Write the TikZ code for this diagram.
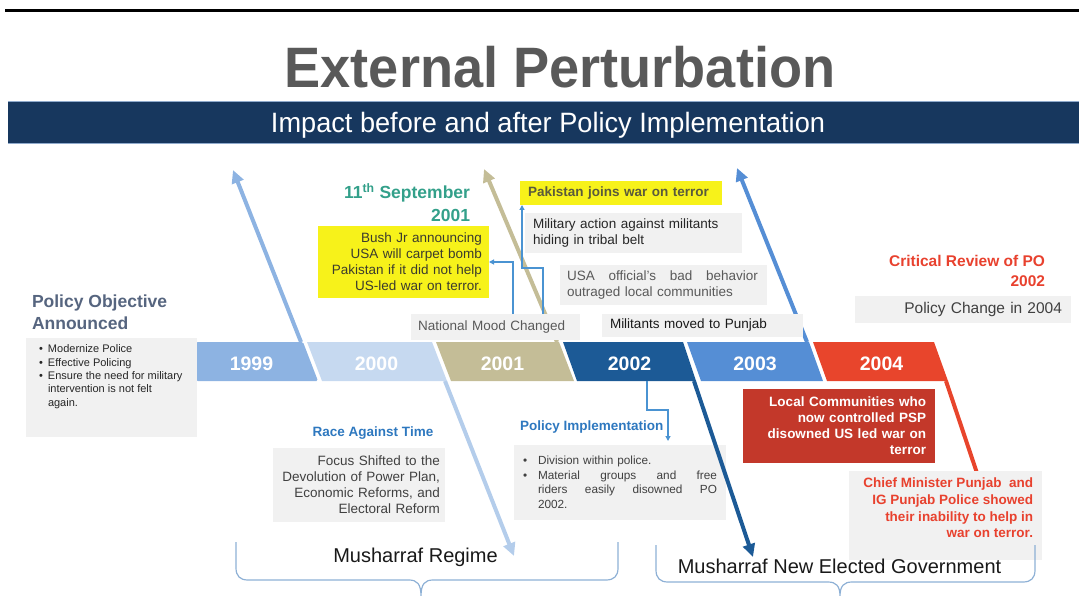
\documentclass[tikz,border=0pt]{standalone}
\usepackage{fontspec}
\setmainfont{Liberation Sans}
\usepackage{graphicx}
\usetikzlibrary{arrows.meta,calc}

\definecolor{navy}{HTML}{17375E}
\definecolor{bandedge}{HTML}{8FAACC}
\definecolor{titlegray}{HTML}{595959}
\definecolor{boxgray}{HTML}{F1F1F1}
\definecolor{txtdark}{HTML}{262626}
\definecolor{txtmid}{HTML}{404040}
\definecolor{txtgray}{HTML}{595959}
\definecolor{yr1999}{HTML}{8DB3E2}
\definecolor{yr2000}{HTML}{C6D9F0}
\definecolor{ar2000}{HTML}{B4CDEB}
\definecolor{yr2001}{HTML}{C4BD97}
\definecolor{yr2002}{HTML}{1C5A96}
\definecolor{yr2003}{HTML}{558ED5}
\definecolor{yr2004}{HTML}{E8452C}
\definecolor{redfill}{HTML}{C3382A}
\definecolor{alertred}{HTML}{E8412E}
\definecolor{septteal}{HTML}{33A08A}
\definecolor{slateblue}{HTML}{56657F}
\definecolor{headblue}{HTML}{2E78BF}
\definecolor{connblue}{HTML}{4A93D2}
\definecolor{bracecol}{HTML}{8DB0D5}
\definecolor{lemon}{HTML}{F7F21A}
\definecolor{joinolive}{HTML}{5A5A3C}
\definecolor{bushtext}{HTML}{3B3B2E}

\newcommand\setfs[2]{\fontsize{#1pt}{#2pt}\selectfont}
% a line of text spread to a fixed width, for justified paragraphs
\newcommand\spreadline[2]{\hbox to #1{#2}}

\tikzset{
  graybox/.style={fill=boxgray, draw=none, inner ysep=0pt, outer sep=0pt, anchor=north west},
  lemonbox/.style={fill=lemon, draw=none, inner ysep=0pt, outer sep=0pt, anchor=north west},
  body/.style={font=\setfs{13.5}{16}},
  yearlbl/.style={text=white, font=\setfs{19.5}{20}\bfseries, inner sep=0pt, anchor=base},
  timearrow/.style={line width=4pt, -{Triangle[length=13pt,width=12pt]}},
  timeline/.style={line width=4pt},
  conn/.style={draw=connblue, line width=1.2pt, -{Triangle[length=5pt,width=5pt]}},
  bracepath/.style={draw=bracecol, line width=1.2pt},
  plain/.style={inner sep=0pt, outer sep=0pt}
}

\begin{document}
\begin{tikzpicture}[x=1pt,y=-1pt]
\useasboundingbox (0,0) rectangle (1079,596);

% heading
\draw[line width=3pt] (5,10.5) -- (1079,10.5);
\node[plain, anchor=base, text=titlegray] (title) at (560,88)
  {\scalebox{0.95}[1]{\setfs{57}{57}\bfseries External Perturbation}};
\fill[navy] (8,101) rectangle (1079,144);
\draw[bandedge, line width=1pt] (8,101.5) -- (1079,101.5);
\draw[bandedge, line width=1pt] (8,143.5) -- (1079,143.5);
\node[plain, anchor=base, text=white] (subtitle) at (548,133)
  {\scalebox{0.97}[1]{\setfs{28}{28}Impact before and after Policy Implementation}};

% box that the 2002 arrow crosses over
\node[graybox, minimum width=212pt, minimum height=75pt, text width=194pt,
      inner xsep=9pt, align=left, text=txtmid, font=\setfs{11.8}{14.5}] (implbox) at (514,445)
  {\makebox[15pt][l]{•}Division within police.\\
   \makebox[15pt][l]{•}\spreadline{179pt}{Material\hfill groups\hfill and\hfill free}\\
   \hspace*{15pt}\spreadline{179pt}{riders\hfill easily\hfill disowned\hfill PO}\\
   \hspace*{15pt}2002.};

% arrows leaving the timeline
\draw[timearrow, yr1999] (301,342) -- (233,170);
\draw[timearrow, ar2000] (445,381) -- (514,556);
\draw[timearrow, yr2001] (557,342) -- (484,169);
\draw[timearrow, yr2002] (694,381) -- (753,557);
\draw[timearrow, yr2003] (807,342) -- (737,168);
\draw[timeline, yr2004] (946,381) -- (980,482);

% timeline segments
\fill[yr1999, rounded corners=1.5pt] (196,342) -- (303,342) -- (318,381) -- (196,381) -- cycle;
\fill[yr2000] (307,342) -- (432,342) -- (447,381) -- (322,381) -- cycle;
\fill[yr2001] (436,342) -- (559,342) -- (574,381) -- (451,381) -- cycle;
\fill[yr2002] (563,342) -- (683,342) -- (696,381) -- (577,381) -- cycle;
\fill[yr2003] (687,342) -- (809,342) -- (823,381) -- (701,381) -- cycle;
\fill[yr2004] (813,342) -- (934,342) -- (948,381) -- (827,381) -- cycle;
\coordinate (seg2002) at (647,381);

\node[yearlbl] (y1999) at (251.5,370) {1999};
\node[yearlbl] (y2000) at (376.5,370) {2000};
\node[yearlbl] (y2001) at (502.5,370) {2001};
\node[yearlbl] (y2002) at (629.5,370) {2002};
\node[yearlbl] (y2003) at (755,370) {2003};
\node[yearlbl] (y2004) at (881.5,370) {2004};

% policy objective
\node[plain, anchor=base west, text=slateblue, font=\setfs{17.5}{22}\bfseries] (objhead1) at (32,307) {Policy Objective};
\node[plain, anchor=base west, text=slateblue, font=\setfs{17.5}{22}\bfseries] (objhead2) at (32,329) {Announced};
\node[graybox, minimum width=171pt, minimum height=99pt] (objbox) at (26,338) {};
\node[plain, anchor=north west, align=left, text=txtdark, font=\setfs{11}{13.3}] (objtext) at (39,345)
  {\makebox[9pt][l]{•}Modernize Police\\
   \makebox[9pt][l]{•}Effective Policing\\
   \makebox[9pt][l]{•}Ensure the need for military\\
   \hspace*{9pt}intervention is not felt\\
   \hspace*{9pt}again.};

% 11th September 2001
\node[plain, anchor=base east, text=septteal, font=\setfs{17.5}{22}\bfseries] (sept1) at (470,199) {11\textsuperscript{th} September};
\node[plain, anchor=base east, text=septteal, font=\setfs{17.5}{22}\bfseries] (sept2) at (470,222) {2001};
\node[lemonbox, body, minimum width=171pt, minimum height=72pt, text width=157pt,
      inner xsep=7pt, align=right, text=bushtext] (bush) at (318,226)
  {Bush Jr announcing\\USA will carpet bomb\\Pakistan if it did not help\\US-led war on terror.};

% 2001 / 2002 events
\node[lemonbox, minimum width=202pt, minimum height=24pt, text width=186pt, inner xsep=8pt,
      align=left, text=joinolive, font=\setfs{13.5}{16}\bfseries] (pakjoin) at (520,181)
  {Pakistan joins war on terror};
\node[graybox, body, minimum width=217pt, minimum height=40pt, text width=201pt, inner xsep=8pt,
      align=left, text=txtdark] (military) at (525,213)
  {Military action against militants\\hiding in tribal belt};
\node[graybox, body, minimum width=207pt, minimum height=40pt, text width=193pt, inner xsep=7pt,
      align=left, text=txtgray] (usa) at (560,265)
  {\spreadline{191pt}{USA\hfill official's\hfill bad\hfill behavior}\\outraged local communities};
\node[graybox, body, minimum width=201pt, minimum height=23pt, text width=185pt, inner xsep=8pt,
      align=left, text=black!90] (punjab) at (602,314)
  {Militants moved to Punjab};
\node[graybox, body, minimum width=169pt, minimum height=26pt, text width=155pt, inner xsep=7pt,
      align=left, text=txtgray] (mood) at (411,314)
  {National Mood Changed};

\draw[conn] ($(mood.north west)+(102,0)$) |- (bush.east);
\draw[conn] ($(mood.north east)+(-37,0)$) -- ++(0,-46) -| ($(pakjoin.south west)+(2,0)$);

% critical review
\node[plain, anchor=base east, text=alertred, font=\setfs{15.5}{20}\bfseries] (crit1) at (1045,266) {Critical Review of PO};
\node[plain, anchor=base east, text=alertred, font=\setfs{15.5}{20}\bfseries] (crit2) at (1045,286) {2002};
\node[graybox, minimum width=216pt, minimum height=27pt, text width=198pt, inner xsep=9pt,
      align=right, text=txtmid, font=\setfs{15.5}{18}] (polchange) at (855,296)
  {Policy Change in 2004};

% race against time
\node[plain, anchor=base, text=headblue, font=\setfs{13.5}{16}\bfseries] (race) at (373,436) {Race Against Time};
\node[graybox, body, minimum width=172pt, minimum height=74pt, text width=162pt, inner xsep=5pt,
      align=right, text=txtmid] (focus) at (273,448)
  {Focus Shifted to the\\Devolution of Power Plan,\\Economic Reforms, and\\Electoral Reform};

% policy implementation
\node[plain, anchor=base west, text=headblue, font=\setfs{13.5}{16}\bfseries] (impltitle) at (520,430) {Policy Implementation};
\draw[conn] (seg2002) -- ++(0,29) -| ($(implbox.north west)+(154,-4)$);

% 2003 / 2004 outcomes
\node[anchor=north west, fill=redfill, inner ysep=0pt, outer sep=0pt, minimum width=192pt,
      minimum height=74pt, text width=174pt, inner xsep=9pt, align=right, text=white,
      font=\setfs{13.5}{16}\bfseries] (local) at (743,389)
  {Local Communities who\\now controlled PSP\\disowned US led war on\\terror};
\node[graybox, minimum width=193pt, minimum height=89pt] (chiefbox) at (849,471) {};
\node[plain, anchor=north east, align=right, text=alertred, font=\setfs{13.5}{16.7}\bfseries] (chief) at (1033,478)
  {Chief Minister Punjab\ \ and\\IG Punjab Police showed\\their inability to help in\\war on terror.};

% braces
\draw[bracepath] (236,542) -- (236,568) .. controls (236,576) and (240,580) .. (248,580)
  -- (409,580) .. controls (417,580) and (421,584) .. (421,596)
  .. controls (421,584) and (425,580) .. (433,580)
  -- (606,580) .. controls (614,580) and (618,576) .. (618,568) -- (618,542);
\node[plain, anchor=base, font=\setfs{20}{24}, text=black!90] (regime) at (415.5,562) {Musharraf Regime};

\draw[bracepath] (656,545) -- (656,570) .. controls (656,578) and (660,582) .. (668,582)
  -- (828,582) .. controls (836,582) and (840,586) .. (840,596)
  .. controls (840,586) and (844,582) .. (852,582)
  -- (1023,582) .. controls (1031,582) and (1035,578) .. (1035,570) -- (1035,545);
\node[plain, anchor=base, font=\setfs{20}{24}, text=black!90] (elected) at (839.5,573) {Musharraf New Elected Government};

\end{tikzpicture}
\end{document}
